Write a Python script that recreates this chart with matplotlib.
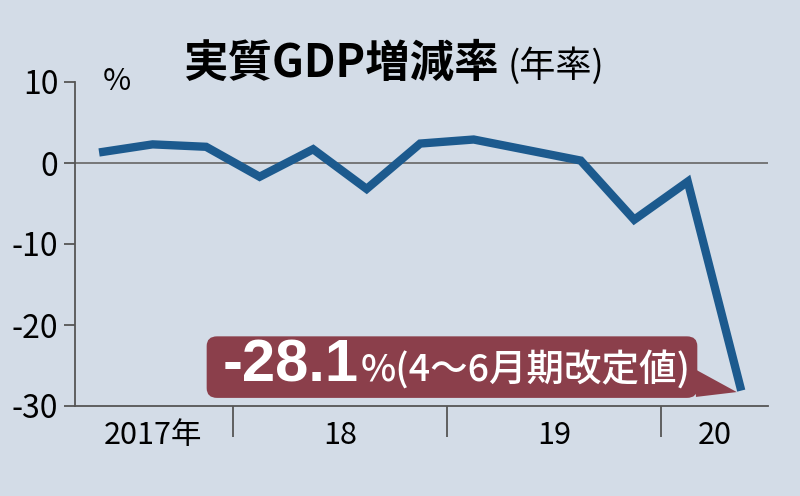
import matplotlib
matplotlib.use('Agg')
from matplotlib import pyplot as plt
from matplotlib.patches import FancyBboxPatch, Polygon

# 四半期ごとの実質GDP増減率(年率, %) 2017年4-6月期〜2020年4-6月期
quarters = ['17Q2', '17Q3', '17Q4', '18Q1', '18Q2', '18Q3', '18Q4',
            '19Q1', '19Q2', '19Q3', '19Q4', '20Q1', '20Q2']
growth = [1.3, 2.3, 2.0, -1.7, 1.7, -3.2, 2.4, 2.9, 1.6, 0.3, -7.0, -2.3, -28.1]

year_labels = ['2017年', '18', '19', '20']
year_centers = [1.0, 4.5, 8.5, 11.5]
year_bounds = [2.5, 6.5, 10.5]
y_ticks = [10, 0, -10, -20, -30]

bg = '#d3dce7'
line_color = '#1c5a8e'
box_color = '#8b3f4b'
axis_color = '#555555'
narrow = ['Liberation Sans Narrow', 'Noto Sans CJK JP', 'DejaVu Sans']
jp = ['Noto Sans CJK JP', 'DejaVu Sans']

fig = plt.figure(figsize=(8, 4.96), dpi=100, facecolor=bg)
ax = fig.add_axes([75 / 800, 1 - 406 / 496, 693 / 800, 324 / 496])
ax.set_facecolor(bg)

x = list(range(len(quarters)))
ax.axhline(0, color='#6f6f6f', lw=1.3, zorder=1)
ax.plot(x, growth, color=line_color, lw=6, solid_joinstyle='miter',
        solid_capstyle='butt', zorder=3, clip_on=False)

ax.set_xlim(-0.45, 12.5)
ax.set_ylim(-30, 10)

for s in ['top', 'right']:
    ax.spines[s].set_visible(False)
for s in ['left', 'bottom']:
    ax.spines[s].set_color(axis_color)
    ax.spines[s].set_linewidth(1.3)

ax.set_yticks(y_ticks)
ax.set_yticklabels([str(v) for v in y_ticks], family=narrow, fontsize=23)
ax.tick_params(axis='y', direction='out', length=8, width=1.3,
               color=axis_color, pad=4)

ax.set_xticks(year_centers)
ax.set_xticklabels(year_labels, family=narrow, fontsize=22)
ax.set_xticks(year_bounds, minor=True)
ax.tick_params(axis='x', which='major', length=0, pad=10)
ax.tick_params(axis='x', which='minor', direction='out', length=22,
               width=1.3, color=axis_color)

ax.text(0.04, 1.0, '%', transform=ax.transAxes, fontsize=22, family=narrow,
        va='center', ha='left')

# タイトル
fig.text(183 / 800, 1 - 64 / 496, '実質GDP増減率', family=jp, fontsize=32,
         fontweight='bold', va='center', ha='left')
fig.text(508 / 800, 1 - 66 / 496, '(年率)', family=jp, fontsize=26,
         va='center', ha='left')

# 注記ボックス
box = FancyBboxPatch((0.19, 0.025), 0.708, 0.19, transform=ax.transAxes,
                     boxstyle='round,pad=0,rounding_size=0.015',
                     facecolor=box_color, edgecolor='none', zorder=4,
                     mutation_aspect=2)
ax.add_patch(box)
ax.add_patch(Polygon([(0.896, 0.112), (0.896, 0.028), (0.955, 0.043)],
                     closed=True, transform=ax.transAxes, facecolor=box_color,
                     edgecolor='none', zorder=4))
ax.text(0.213, 0.122, '-28.1', transform=ax.transAxes, color='white',
        fontsize=43, fontweight='bold', family=['Liberation Sans', 'DejaVu Sans'],
        va='center', ha='left', zorder=5)
ax.text(0.412, 0.11, '%(4～6月期改定値)', transform=ax.transAxes,
        color='white', fontsize=27, fontweight='medium', family=jp,
        va='center', ha='left', zorder=5)

fig.savefig('out.png', dpi=100, facecolor=bg)
